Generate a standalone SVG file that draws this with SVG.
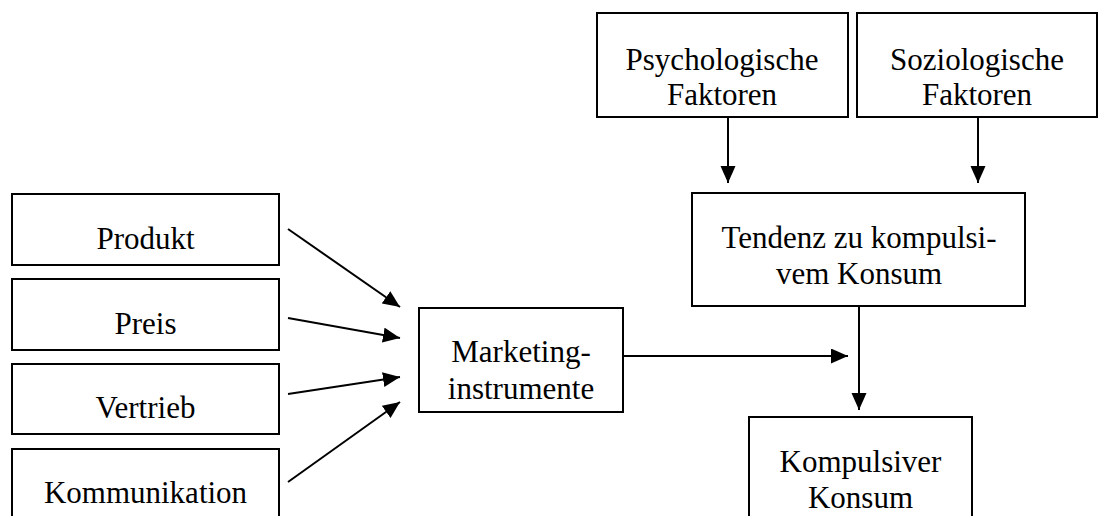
<svg xmlns="http://www.w3.org/2000/svg" width="1099" height="516" viewBox="0 0 1099 516">
<style>
.box{fill:#fff;stroke:#000;stroke-width:2}
.t{font-family:"Liberation Serif","Times New Roman",serif;font-size:31px;fill:#000;text-anchor:middle}
.c{fill:none;stroke:#000;stroke-width:2;marker-end:url(#ah)}
</style>
<defs>
<marker id="ah" markerUnits="userSpaceOnUse" markerWidth="18" markerHeight="16" refX="17" refY="7.5" orient="auto">
<path d="M0,0 L17,7.5 L0,15 Z" fill="#000"/>
</marker>
</defs>
<g id="connectors">
<path class="c" d="M728,117 L728,183"/>
<path class="c" d="M978,117 L978,183"/>
<path class="c" d="M288,229 L400,307"/>
<path class="c" d="M288,318 L400,338"/>
<path class="c" d="M288,394 L400,377"/>
<path class="c" d="M288,482 L400,402"/>
<path class="c" d="M623,356 L848,356"/>
<path class="c" d="M859,306 L859,410"/>
</g>
<g id="psych">
<rect class="box" x="597" y="13" width="251" height="104"/>
<text class="t" x="722" y="70">Psychologische</text>
<text class="t" x="722" y="105">Faktoren</text>
</g>
<g id="sozio">
<rect class="box" x="857" y="13" width="240" height="104"/>
<text class="t" x="977" y="70">Soziologische</text>
<text class="t" x="977" y="105">Faktoren</text>
</g>
<g id="tendenz">
<rect class="box" x="692" y="193" width="333" height="113"/>
<text class="t" x="859" y="248">Tendenz zu kompulsi-</text>
<text class="t" x="859" y="284">vem Konsum</text>
</g>
<g id="produkt">
<rect class="box" x="12" y="194" width="267" height="71"/>
<text class="t" x="145.5" y="249">Produkt</text>
</g>
<g id="preis">
<rect class="box" x="12" y="279" width="267" height="71"/>
<text class="t" x="145.5" y="334">Preis</text>
</g>
<g id="vertrieb">
<rect class="box" x="12" y="364" width="267" height="70"/>
<text class="t" x="145.5" y="418">Vertrieb</text>
</g>
<g id="kommunikation">
<rect class="box" x="12" y="449" width="267" height="80"/>
<text class="t" x="145.5" y="503">Kommunikation</text>
</g>
<g id="marketing">
<rect class="box" x="419" y="308" width="204" height="104"/>
<text class="t" x="521" y="362">Marketing-</text>
<text class="t" x="521" y="399">instrumente</text>
</g>
<g id="kompulsiver">
<rect class="box" x="749" y="417" width="223" height="112"/>
<text class="t" x="860.5" y="472">Kompulsiver</text>
<text class="t" x="860.5" y="508">Konsum</text>
</g>
</svg>
